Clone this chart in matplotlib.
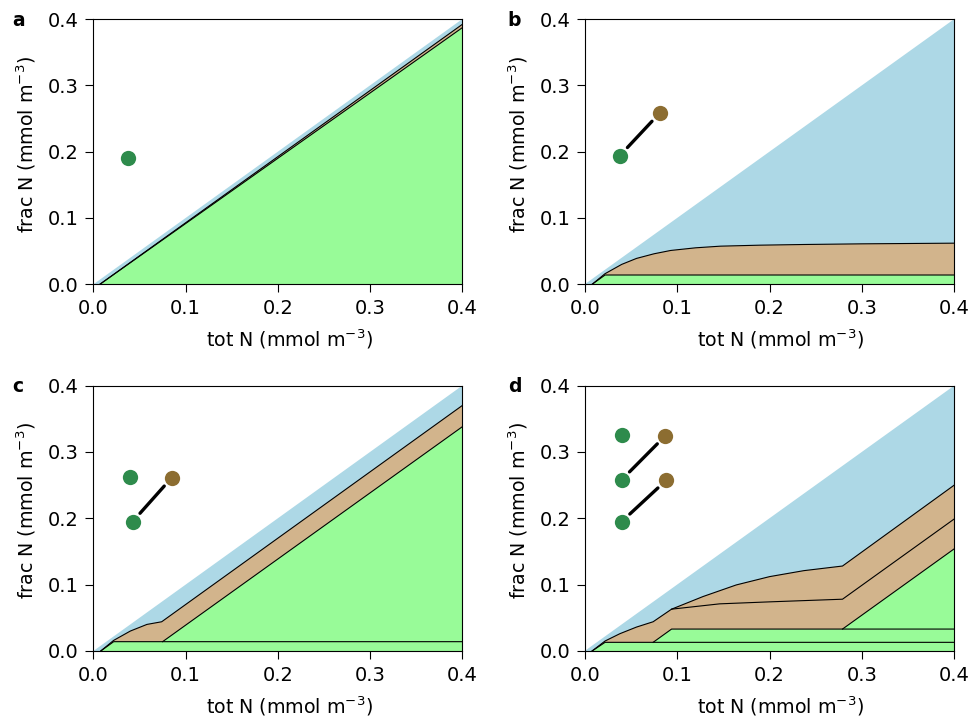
import matplotlib
matplotlib.use("Agg")
import matplotlib.pyplot as plt

BLUE = "lightblue"
BROWN = "tan"
GREEN = "palegreen"
DOT_GREEN = "#2e8b4c"
DOT_BROWN = "#8c6d31"

# total N line (upper edge of the blue area), same for all panels
tot_x = [0.0, 0.4]
tot_y = [0.0, 0.4]

# panel a: boundaries
a_green_x = [0.007, 0.4]
a_green_y = [0.0, 0.387]
a_brown_x = [0.007, 0.4]
a_brown_y = [0.0, 0.392]

# panel b
b_green_x = [0.008, 0.022, 0.4]
b_green_y = [0.0, 0.014, 0.014]
b_brown_x = [0.008, 0.022, 0.04, 0.056, 0.075, 0.093, 0.12, 0.147, 0.19, 0.237, 0.3, 0.4]
b_brown_y = [0.0, 0.016, 0.030, 0.039, 0.046, 0.051, 0.055, 0.0575, 0.059, 0.060, 0.061, 0.062]

# panel c
c_green1_x = [0.008, 0.022, 0.4]
c_green1_y = [0.0, 0.014, 0.014]
c_green2_x = [0.075, 0.4]
c_green2_y = [0.014, 0.338]
c_brown_x = [0.008, 0.022, 0.04, 0.058, 0.074, 0.4]
c_brown_y = [0.0, 0.016, 0.030, 0.040, 0.044, 0.370]

# panel d
d_green1_x = [0.008, 0.022, 0.4]
d_green1_y = [0.0, 0.013, 0.013]
d_green2_x = [0.074, 0.094, 0.4]
d_green2_y = [0.013, 0.033, 0.033]
d_green3_x = [0.279, 0.4]
d_green3_y = [0.033, 0.154]
d_brown1_x = [0.008, 0.022, 0.038, 0.056, 0.074, 0.094, 0.146, 0.2, 0.279, 0.4]
d_brown1_y = [0.0, 0.015, 0.026, 0.036, 0.044, 0.063, 0.071, 0.074, 0.078, 0.199]
d_brown2_x = [0.094, 0.128, 0.164, 0.2, 0.237, 0.279, 0.4]
d_brown2_y = [0.063, 0.082, 0.0995, 0.112, 0.121, 0.128, 0.25]

# markers: (x, y) positions of the dots, and pairs joined by a line
a_dots_green = [(0.037, 0.191)]
b_dots_green = [(0.038, 0.194)]
b_dots_brown = [(0.081, 0.258)]
c_dots_green = [(0.040, 0.262), (0.0425, 0.195)]
c_dots_brown = [(0.0848, 0.261)]
c_links = [(1, 0)]
d_dots_green = [(0.040, 0.325), (0.040, 0.258), (0.040, 0.195)]
d_dots_brown = [(0.087, 0.324), (0.088, 0.257)]
d_links = [(1, 0), (2, 1)]


def band(ax, upper_x, upper_y, color, edge=True):
    # area under a boundary, down to frac N = 0; later layers cover it
    px = list(upper_x) + [upper_x[-1], upper_x[0]]
    py = list(upper_y) + [0.0, 0.0]
    ax.fill(px, py, color=color, lw=0, zorder=1)
    if edge:
        ax.plot(upper_x, upper_y, color="k", lw=0.8, zorder=3)


def dots(ax, greens, browns=(), links=()):
    for gi, bi in links:
        ax.annotate("", xy=browns[bi], xytext=greens[gi],
                    arrowprops=dict(arrowstyle="-", lw=2.4, color="k",
                                    shrinkA=8, shrinkB=8), zorder=4)
    for x, y in greens:
        ax.plot(x, y, "o", ms=11, color=DOT_GREEN, mec="none", zorder=5)
    for x, y in browns:
        ax.plot(x, y, "o", ms=11, color=DOT_BROWN, mec="none", zorder=5)


plt.rcParams["font.size"] = 14
plt.rcParams["xtick.major.size"] = 6
plt.rcParams["ytick.major.size"] = 6
plt.rcParams["xtick.major.pad"] = 4.5
plt.rcParams["ytick.major.pad"] = 4.5
fig = plt.figure(figsize=(9.71, 7.17), dpi=100)

boxes = {
    "a": [0.0962, 0.6035, 0.3800, 0.3700],
    "b": [0.6022, 0.6035, 0.3806, 0.3700],
    "c": [0.0962, 0.0921, 0.3800, 0.3702],
    "d": [0.6022, 0.0921, 0.3806, 0.3702],
}
label_pos = {"a": (0.0124, 0.9637), "b": (0.523, 0.9637),
             "c": (0.0124, 0.4526), "d": (0.523, 0.4526)}

axes = {}
for key, box in boxes.items():
    ax = fig.add_axes(box)
    ax.set_xlim(0, 0.4)
    ax.set_ylim(0, 0.4)
    ax.set_xticks([0.0, 0.1, 0.2, 0.3, 0.4])
    ax.set_yticks([0.0, 0.1, 0.2, 0.3, 0.4])
    ax.set_xlabel("tot N (mmol m$^{-3}$)", fontsize=13.7, labelpad=7)
    ax.set_ylabel("frac N (mmol m$^{-3}$)", fontsize=13.7, labelpad=7)
    ax.xaxis.label.set_x(0.53)
    ax.yaxis.label.set_y(0.528)
    fig.text(*label_pos[key], key, fontweight="bold", fontsize=13.5, va="baseline")
    axes[key] = ax

# a
ax = axes["a"]
band(ax, tot_x, tot_y, BLUE, edge=False)
band(ax, a_brown_x, a_brown_y, BROWN)
band(ax, a_green_x, a_green_y, GREEN)
dots(ax, a_dots_green)

# b
ax = axes["b"]
band(ax, tot_x, tot_y, BLUE, edge=False)
band(ax, b_brown_x, b_brown_y, BROWN)
band(ax, b_green_x, b_green_y, GREEN)
dots(ax, b_dots_green, b_dots_brown, [(0, 0)])

# c
ax = axes["c"]
band(ax, tot_x, tot_y, BLUE, edge=False)
band(ax, c_brown_x, c_brown_y, BROWN)
band(ax, c_green2_x, c_green2_y, GREEN)
band(ax, c_green1_x, c_green1_y, GREEN)
dots(ax, c_dots_green, c_dots_brown, c_links)

# d
ax = axes["d"]
band(ax, tot_x, tot_y, BLUE, edge=False)
band(ax, d_brown2_x, d_brown2_y, BROWN)
band(ax, d_brown1_x, d_brown1_y, BROWN)
band(ax, d_green3_x, d_green3_y, GREEN)
band(ax, d_green2_x, d_green2_y, GREEN)
band(ax, d_green1_x, d_green1_y, GREEN)
dots(ax, d_dots_green, d_dots_brown, d_links)

fig.savefig("out.png", dpi=100)
